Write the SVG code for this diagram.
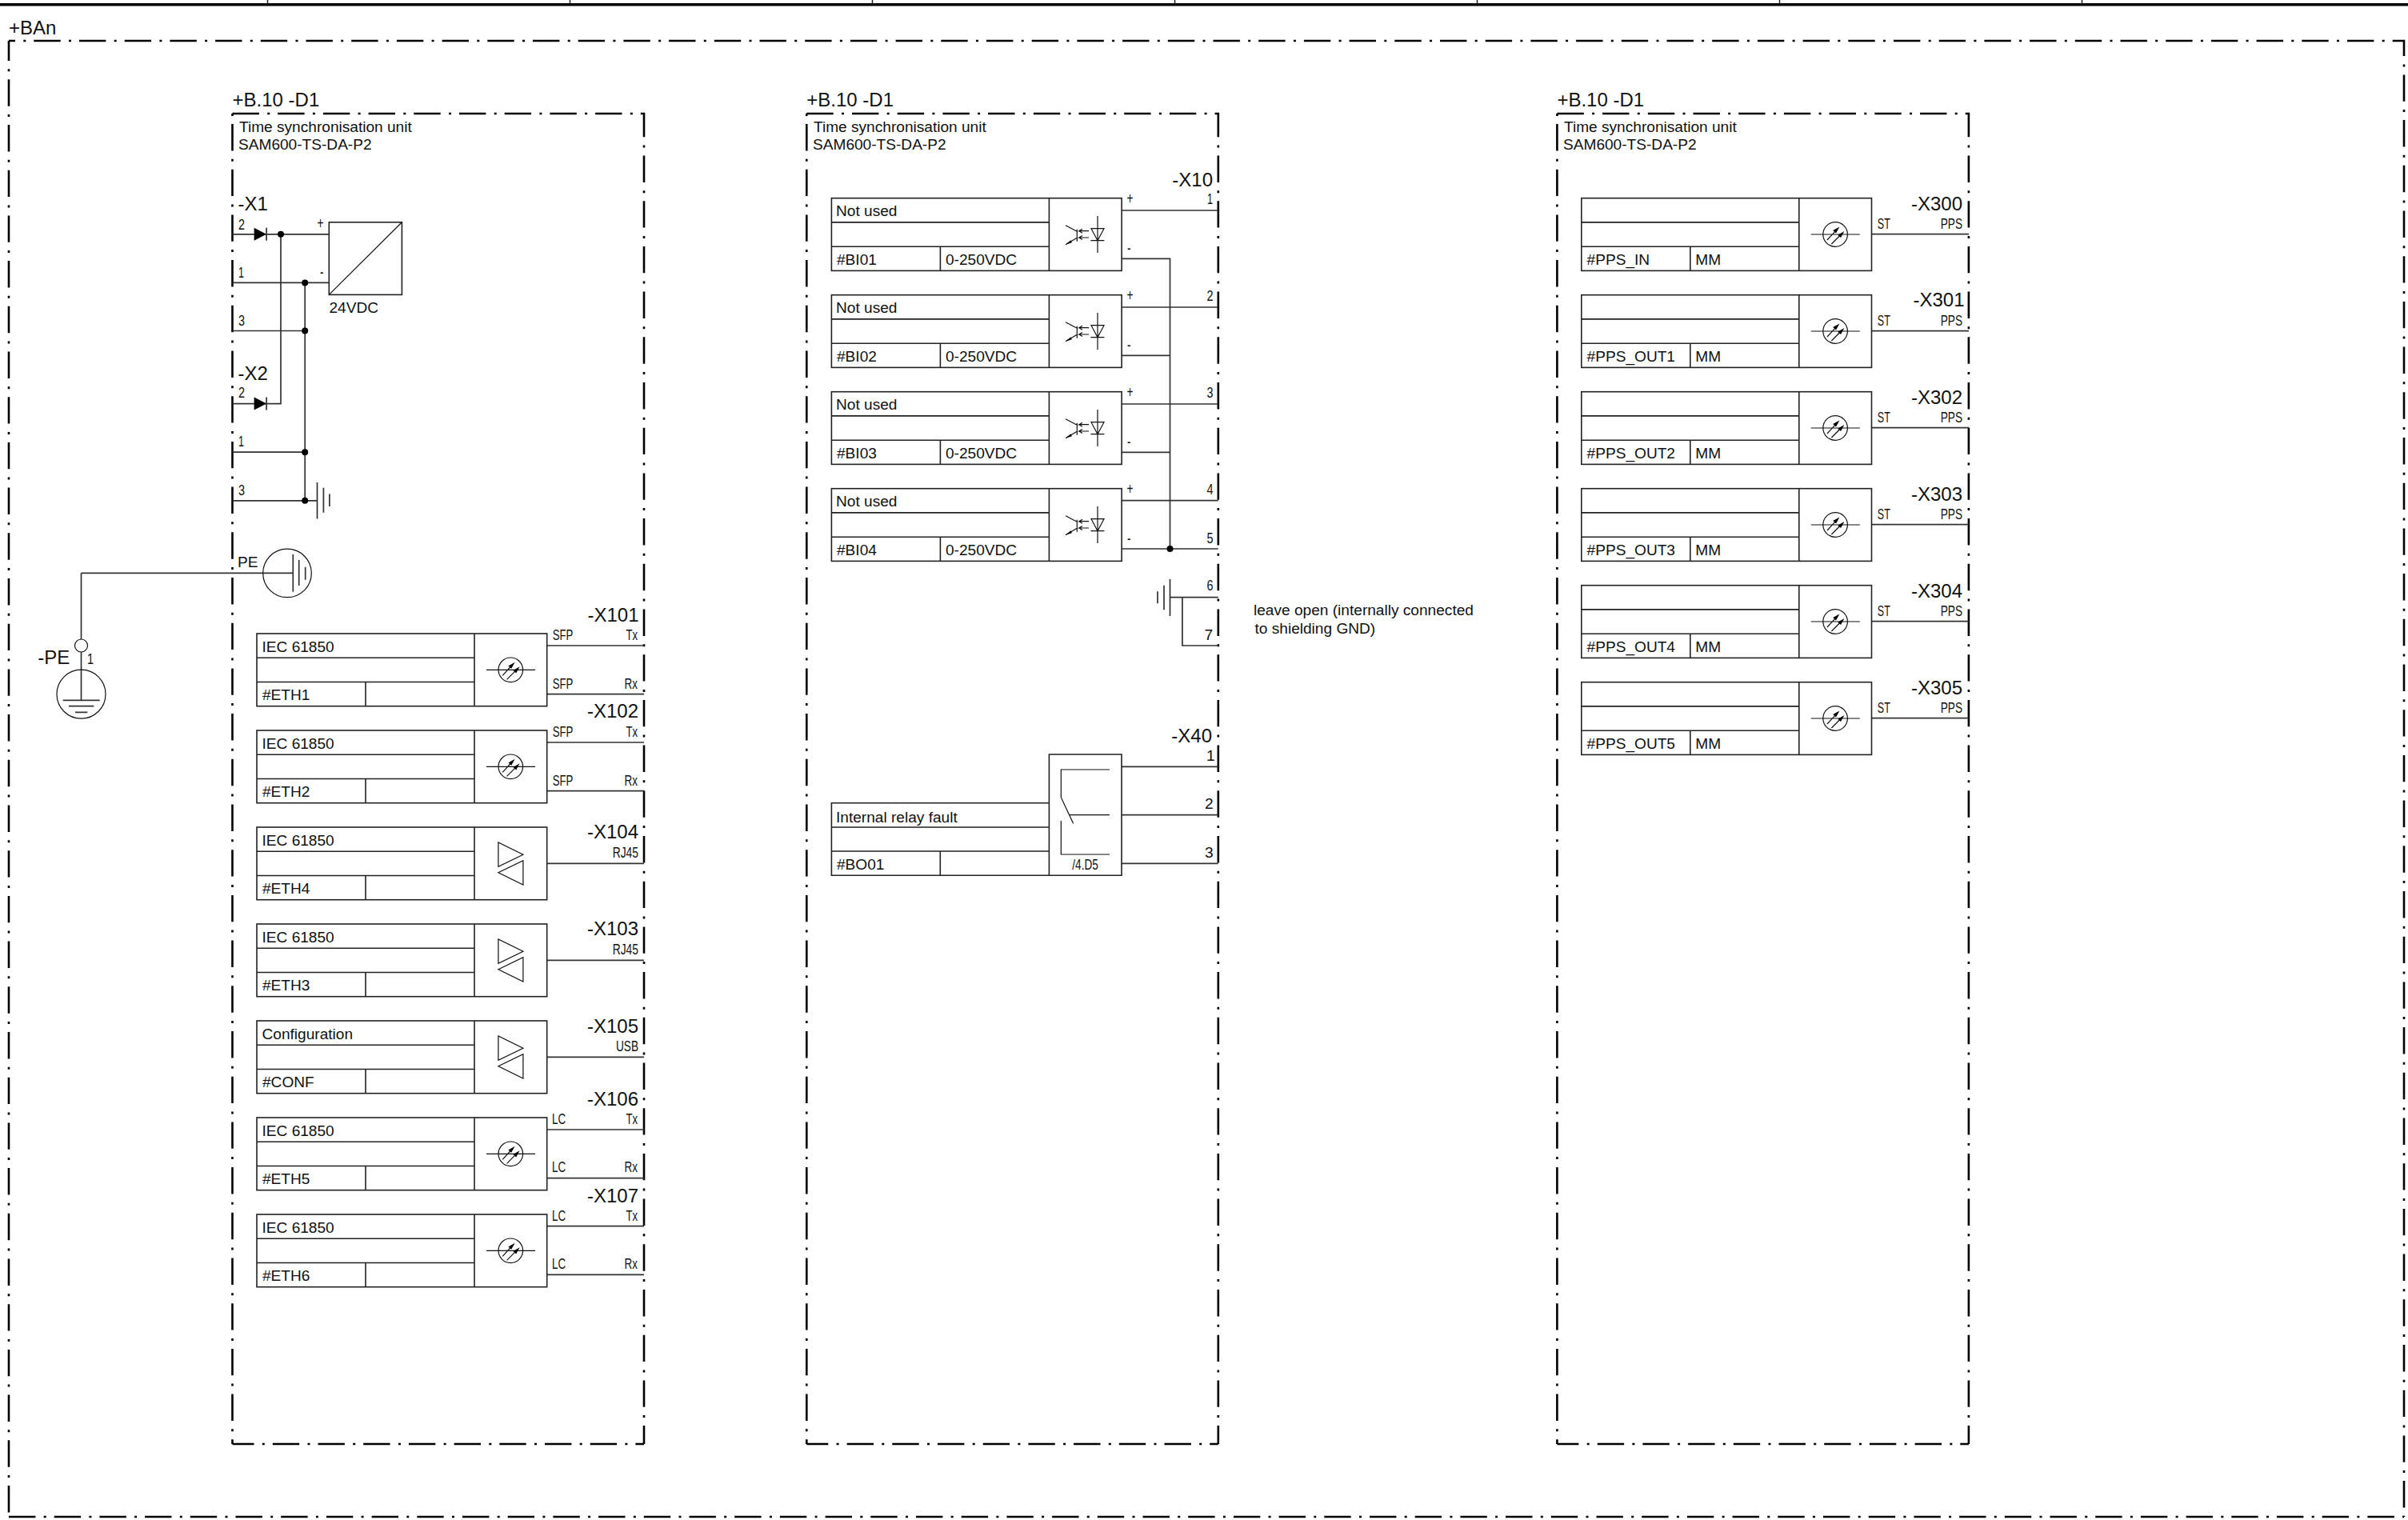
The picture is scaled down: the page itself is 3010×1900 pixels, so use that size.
<svg xmlns="http://www.w3.org/2000/svg" width="3010" height="1900" viewBox="0 0 3010 1900">
<style>
text{font-family:"Liberation Sans",Arial,sans-serif;fill:#111;stroke:none}
.t{font-size:19.1px}
.h{font-size:24px}
.s{font-size:18.5px}
.p{font-size:20px}
.d{fill:none;stroke:#000;stroke-width:2.6;stroke-dasharray:33.4 10.3 3 10}
.l{fill:none;stroke:#222;stroke-width:1.6}
.w{fill:none;stroke:#333;stroke-width:1.7}
.f{fill:#000;stroke:none}
.i{fill:none;stroke:#111;stroke-width:1.2}
</style>
<defs>
<g id="tbl" class="l"><rect x="0" y="0" width="362.7" height="90.7"/><path d="M0 30.2H272M0 60.5H272M136 60.5V90.7M272 0V90.7"/></g>
<g id="fibre"><circle class="i" cx="317.3" cy="45.3" r="15.3"/><path class="i" d="M286.9 45.3H348M307.2 52.3L319 39.5M312.6 57.3L325 44.8"/><polygon class="f" points="322.6,35.7 318.2,43.8 314.4,40.4"/><polygon class="f" points="328.6,41.3 324.2,49.4 320.4,46"/></g>
<g id="eth"><path class="i" d="M301.9 19V49.3L332.9 34.3ZM332.9 41.7V72L301.9 56.7Z"/></g>
<g id="opto"><path class="i" d="M332.6 22.3V68.3M324.6 38H340.6L332.6 53ZM324 53H341M306.9 39V54M292.6 34L306.9 41.6M292.6 58L306.9 49.6M321.7 41H309.5l4 -2.5M309.5 41l4 2.5M321.7 49.3H309.5l4 -2.5M309.5 49.3l4 2.5"/><polygon class="f" points="292.6,58 299,52.5 300.5,55.5"/></g>
<g id="diode"><polygon class="f" points="0,-8 15.5,0 0,8"/><path class="w" d="M15.5 -8V8"/></g>
<g id="frame"><path class="d" d="M0 0H514.5V1663"/><path class="d" stroke-dashoffset="43.7" d="M0 0V1663"/><path class="d" stroke-dashoffset="6.4" d="M0 1663H514.5"/></g>
</defs>
<rect width="3010" height="1900" fill="#fff"/>
<g id="title-strip"><path d="M0 5.7H3010" stroke="#000" stroke-width="3.6" fill="none"/><path d="M334.5 0V5M712.5 0V5M1090.5 0V5M1468.5 0V5M1846.5 0V5M2224.5 0V5M2602.5 0V5" stroke="#222" stroke-width="1.5" fill="none"/></g>
<g id="outer-frame"><path class="d" stroke-dashoffset="25.4" d="M11 51H3005V1896"/><path class="d" stroke-dashoffset="8.4" d="M11 51V1896"/><path class="d" d="M11 1896H3005"/><text class="h" x="11" y="43">+BAn</text></g>

<g id="frame-1"><use href="#frame" x="290.5" y="142"/><text class="h" x="290.5" y="133">+B.10 -D1</text><text class="t" x="299" y="165">Time synchronisation unit</text><text class="t" x="298" y="187">SAM600-TS-DA-P2</text></g>
<g id="frame-2"><use href="#frame" x="1008.3" y="142"/><text class="h" x="1008.3" y="133">+B.10 -D1</text><text class="t" x="1017" y="165">Time synchronisation unit</text><text class="t" x="1016" y="187">SAM600-TS-DA-P2</text></g>
<g id="frame-3"><use href="#frame" x="1946.4" y="142"/><text class="h" x="1946.4" y="133">+B.10 -D1</text><text class="t" x="1955" y="165">Time synchronisation unit</text><text class="t" x="1954" y="187">SAM600-TS-DA-P2</text></g>

<g id="connectors">
<path class="w" d="M290.5 292.8H411.3M290.5 353.4H411.3M290.5 413.5H381.2M290.5 504.6H351V292.8M290.5 565.2H381.2M290.5 625.8H396.5M381.2 353.4V625.8"/>
<path class="w" d="M101.5 716.3H366.3M101.5 716.3V799M101.5 815V875.3"/>
<path class="w" d="M684 807H805M684 867.7H805M684 928H805M684 988.7H805M684 1079.3H805M684 1200.3H805M684 1321.3H805M684 1412H805M684 1472.7H805M684 1532.7H805M684 1593.3H805"/>
<path class="w" d="M1402 263H1522.7M1402 384H1522.7M1402 505H1522.7M1402 625.7H1522.7M1402 686H1522.7M1402 323.3H1462.5V686M1402 444.3H1462.5M1402 565.3H1462.5M1462.5 746.7H1522.7M1477.9 746.7V807H1522.7M1402 958.3H1522.7M1402 1018.7H1522.7M1402 1079.3H1522.7"/>
<path class="w" d="M2339.6 292.7H2461M2339.6 413.7H2461M2339.6 534.7H2461M2339.6 655.7H2461M2339.6 776.7H2461M2339.6 897.7H2461"/>
<g class="f"><circle cx="351" cy="292.8" r="4"/><circle cx="381.2" cy="353.4" r="4"/><circle cx="381.2" cy="413.5" r="4"/><circle cx="381.2" cy="565.2" r="4"/><circle cx="381.2" cy="625.8" r="4"/><circle cx="1462.5" cy="686" r="4"/></g>
</g>

<g id="X1"><text class="h" x="297.5" y="263">-X1</text>
<text class="s" x="298" y="287" textLength="8" lengthAdjust="spacingAndGlyphs">2</text><text class="s" x="298" y="346.6" textLength="7" lengthAdjust="spacingAndGlyphs">1</text><text class="s" x="298" y="407" textLength="8" lengthAdjust="spacingAndGlyphs">3</text><use href="#diode" x="317.6" y="292.8"/></g>
<g id="X2"><text class="h" x="297.5" y="475">-X2</text>
<text class="s" x="298" y="497.3" textLength="8" lengthAdjust="spacingAndGlyphs">2</text><text class="s" x="298" y="558.4" textLength="7" lengthAdjust="spacingAndGlyphs">1</text><text class="s" x="298" y="618.5" textLength="8" lengthAdjust="spacingAndGlyphs">3</text><use href="#diode" x="317.6" y="504.6"/></g>
<g id="converter"><rect class="l" x="411.3" y="277.8" width="91.1" height="90.6"/><path class="i" d="M411.3 368.4L502.4 277.8"/><text class="p" x="396.5" y="286" textLength="8" lengthAdjust="spacingAndGlyphs">+</text><text class="p" x="400" y="347" textLength="4.5" lengthAdjust="spacingAndGlyphs">-</text><text class="t" x="411.5" y="391">24VDC</text></g>
<g id="shield-gnd"><path class="w" d="M396.5 603V648.6M404.4 609.8V640.8M411.9 617.6V633"/></g>
<g id="PE-terminal"><text class="t" x="297" y="709">PE</text><circle class="i" cx="359" cy="716.4" r="30.3"/><path class="w" d="M366.3 693V739.7M373.7 700V732M381.7 708.7V724.7"/></g>
<g id="PE-earth"><circle class="i" cx="101.5" cy="807" r="8"/><circle class="i" cx="101.5" cy="867.7" r="30.5"/><path class="w" d="M78.7 875.3H124.7M86 882.7H117.3M94 890.3H109.3"/><text class="h" x="47.3" y="830">-PE</text><text class="s" x="109" y="830" textLength="8" lengthAdjust="spacingAndGlyphs">1</text></g>

<g id="ETH1"><use href="#tbl" x="321" y="792"/><use href="#fibre" x="321" y="792"/><text class="t" x="327.5" y="815">IEC 61850</text><text class="t" x="328" y="875">#ETH1</text><text class="h" x="798.5" y="776.7" text-anchor="end">-X101</text><text class="s" x="690.7" y="800" textLength="25.7" lengthAdjust="spacingAndGlyphs">SFP</text><text class="s" x="782.4" y="800" textLength="14.6" lengthAdjust="spacingAndGlyphs">Tx</text><text class="s" x="690.7" y="860.5" textLength="25.7" lengthAdjust="spacingAndGlyphs">SFP</text><text class="s" x="780.6" y="860.5" textLength="16.4" lengthAdjust="spacingAndGlyphs">Rx</text></g>
<g id="ETH2"><use href="#tbl" x="321" y="913"/><use href="#fibre" x="321" y="913"/><text class="t" x="327.5" y="936">IEC 61850</text><text class="t" x="328" y="996">#ETH2</text><text class="h" x="798" y="897.3" text-anchor="end">-X102</text><text class="s" x="690.7" y="921" textLength="25.7" lengthAdjust="spacingAndGlyphs">SFP</text><text class="s" x="782.4" y="921" textLength="14.6" lengthAdjust="spacingAndGlyphs">Tx</text><text class="s" x="690.7" y="981.5" textLength="25.7" lengthAdjust="spacingAndGlyphs">SFP</text><text class="s" x="780.6" y="981.5" textLength="16.4" lengthAdjust="spacingAndGlyphs">Rx</text></g>
<g id="ETH4"><use href="#tbl" x="321" y="1034"/><use href="#eth" x="321" y="1034"/><text class="t" x="327.5" y="1057">IEC 61850</text><text class="t" x="328" y="1117">#ETH4</text><text class="h" x="798" y="1048.3" text-anchor="end">-X104</text><text class="s" x="765.7" y="1071.7" textLength="32.3" lengthAdjust="spacingAndGlyphs">RJ45</text></g>
<g id="ETH3"><use href="#tbl" x="321" y="1155"/><use href="#eth" x="321" y="1155"/><text class="t" x="327.5" y="1178">IEC 61850</text><text class="t" x="328" y="1238">#ETH3</text><text class="h" x="798" y="1169.3" text-anchor="end">-X103</text><text class="s" x="765.7" y="1192.7" textLength="32.3" lengthAdjust="spacingAndGlyphs">RJ45</text></g>
<g id="CONF"><use href="#tbl" x="321" y="1276"/><use href="#eth" x="321" y="1276"/><text class="t" x="327.5" y="1299">Configuration</text><text class="t" x="328" y="1359">#CONF</text><text class="h" x="798" y="1290.7" text-anchor="end">-X105</text><text class="s" x="770" y="1314" textLength="28" lengthAdjust="spacingAndGlyphs">USB</text></g>
<g id="ETH5"><use href="#tbl" x="321" y="1397"/><use href="#fibre" x="321" y="1397"/><text class="t" x="327.5" y="1420">IEC 61850</text><text class="t" x="328" y="1480">#ETH5</text><text class="h" x="798" y="1381.7" text-anchor="end">-X106</text><text class="s" x="690" y="1405" textLength="17" lengthAdjust="spacingAndGlyphs">LC</text><text class="s" x="782.4" y="1405" textLength="14.6" lengthAdjust="spacingAndGlyphs">Tx</text><text class="s" x="690" y="1465" textLength="17" lengthAdjust="spacingAndGlyphs">LC</text><text class="s" x="780.6" y="1465" textLength="16.4" lengthAdjust="spacingAndGlyphs">Rx</text></g>
<g id="ETH6"><use href="#tbl" x="321" y="1518"/><use href="#fibre" x="321" y="1518"/><text class="t" x="327.5" y="1541">IEC 61850</text><text class="t" x="328" y="1601">#ETH6</text><text class="h" x="798" y="1502.7" text-anchor="end">-X107</text><text class="s" x="690" y="1526" textLength="17" lengthAdjust="spacingAndGlyphs">LC</text><text class="s" x="782.4" y="1526" textLength="14.6" lengthAdjust="spacingAndGlyphs">Tx</text><text class="s" x="690" y="1586" textLength="17" lengthAdjust="spacingAndGlyphs">LC</text><text class="s" x="780.6" y="1586" textLength="16.4" lengthAdjust="spacingAndGlyphs">Rx</text></g>

<g id="X10"><text class="h" x="1516" y="232.7" text-anchor="end">-X10</text>
<text class="s" x="1509" y="255" textLength="7" lengthAdjust="spacingAndGlyphs">1</text><text class="s" x="1508.6" y="376" textLength="8" lengthAdjust="spacingAndGlyphs">2</text><text class="s" x="1508.6" y="497" textLength="8" lengthAdjust="spacingAndGlyphs">3</text><text class="s" x="1508.6" y="617.7" textLength="8" lengthAdjust="spacingAndGlyphs">4</text><text class="s" x="1508.6" y="679" textLength="8" lengthAdjust="spacingAndGlyphs">5</text><text class="s" x="1508.6" y="738" textLength="8" lengthAdjust="spacingAndGlyphs">6</text><text class="t" x="1505.5" y="800">7</text></g>
<g id="BI01"><use href="#tbl" x="1039.4" y="247.7"/><use href="#opto" x="1039.4" y="247.7"/><text class="t" x="1045" y="270">Not used</text><text class="t" x="1046" y="331">#BI01</text><text class="t" x="1182" y="331">0-250VDC</text><text class="p" x="1408.5" y="255" textLength="8" lengthAdjust="spacingAndGlyphs">+</text><text class="p" x="1409" y="317" textLength="4.5" lengthAdjust="spacingAndGlyphs">-</text></g>
<g id="BI02"><use href="#tbl" x="1039.4" y="368.7"/><use href="#opto" x="1039.4" y="368.7"/><text class="t" x="1045" y="391">Not used</text><text class="t" x="1046" y="452">#BI02</text><text class="t" x="1182" y="452">0-250VDC</text><text class="p" x="1408.5" y="376" textLength="8" lengthAdjust="spacingAndGlyphs">+</text><text class="p" x="1409" y="438" textLength="4.5" lengthAdjust="spacingAndGlyphs">-</text></g>
<g id="BI03"><use href="#tbl" x="1039.4" y="489.7"/><use href="#opto" x="1039.4" y="489.7"/><text class="t" x="1045" y="512">Not used</text><text class="t" x="1046" y="573">#BI03</text><text class="t" x="1182" y="573">0-250VDC</text><text class="p" x="1408.5" y="497" textLength="8" lengthAdjust="spacingAndGlyphs">+</text><text class="p" x="1409" y="559" textLength="4.5" lengthAdjust="spacingAndGlyphs">-</text></g>
<g id="BI04"><use href="#tbl" x="1039.4" y="610.7"/><use href="#opto" x="1039.4" y="610.7"/><text class="t" x="1045" y="633">Not used</text><text class="t" x="1046" y="694">#BI04</text><text class="t" x="1182" y="694">0-250VDC</text><text class="p" x="1408.5" y="618" textLength="8" lengthAdjust="spacingAndGlyphs">+</text><text class="p" x="1409" y="680" textLength="4.5" lengthAdjust="spacingAndGlyphs">-</text></g>
<g id="shield-x10"><path class="w" d="M1462.5 724V770M1455 731.7V762.3M1447 739.3V754.3"/><text class="t" x="1567" y="769.3">leave open (internally connected</text><text class="t" x="1568.5" y="791.7">to shielding GND)</text></g>

<g id="BO01"><path class="l" d="M1311.4 1003.7H1039.4V1094.3H1402V943H1311.4V1094.3M1039.4 1034H1311.4M1039.4 1064H1311.4M1175.3 1064V1094.3"/><path class="i" d="M1387 962H1326.3V996.7L1341.6 1029.3M1337.4 1018.7H1387M1326.3 1026V1068H1387"/><text class="t" x="1045" y="1028">Internal relay fault</text><text class="t" x="1046" y="1087">#BO01</text><text class="s" x="1340.3" y="1086.7" textLength="32.5" lengthAdjust="spacingAndGlyphs">/4.D5</text><text class="h" x="1515" y="927.7" text-anchor="end">-X40</text><text class="t" x="1508" y="950.7">1</text><text class="t" x="1506" y="1011">2</text><text class="t" x="1506" y="1071.7">3</text></g>

<g id="PPS-IN"><use href="#tbl" x="1976.8" y="247.7"/><use href="#fibre" x="1976.8" y="247.7"/><text class="t" x="1983.6" y="331">#PPS_IN</text><text class="t" x="2119.3" y="331">MM</text><text class="h" x="2453" y="262.7" text-anchor="end">-X300</text><text class="s" x="2346.8" y="286" textLength="16" lengthAdjust="spacingAndGlyphs">ST</text><text class="s" x="2425.7" y="286" textLength="27.3" lengthAdjust="spacingAndGlyphs">PPS</text></g>
<g id="PPS-OUT1"><use href="#tbl" x="1976.8" y="368.7"/><use href="#fibre" x="1976.8" y="368.7"/><text class="t" x="1983.6" y="452">#PPS_OUT1</text><text class="t" x="2119.3" y="452">MM</text><text class="h" x="2455.5" y="383.3" text-anchor="end">-X301</text><text class="s" x="2346.8" y="407" textLength="16" lengthAdjust="spacingAndGlyphs">ST</text><text class="s" x="2425.7" y="407" textLength="27.3" lengthAdjust="spacingAndGlyphs">PPS</text></g>
<g id="PPS-OUT2"><use href="#tbl" x="1976.8" y="489.7"/><use href="#fibre" x="1976.8" y="489.7"/><text class="t" x="1983.6" y="573">#PPS_OUT2</text><text class="t" x="2119.3" y="573">MM</text><text class="h" x="2453" y="504.7" text-anchor="end">-X302</text><text class="s" x="2346.8" y="528" textLength="16" lengthAdjust="spacingAndGlyphs">ST</text><text class="s" x="2425.7" y="528" textLength="27.3" lengthAdjust="spacingAndGlyphs">PPS</text></g>
<g id="PPS-OUT3"><use href="#tbl" x="1976.8" y="610.7"/><use href="#fibre" x="1976.8" y="610.7"/><text class="t" x="1983.6" y="694">#PPS_OUT3</text><text class="t" x="2119.3" y="694">MM</text><text class="h" x="2453" y="625.7" text-anchor="end">-X303</text><text class="s" x="2346.8" y="649" textLength="16" lengthAdjust="spacingAndGlyphs">ST</text><text class="s" x="2425.7" y="649" textLength="27.3" lengthAdjust="spacingAndGlyphs">PPS</text></g>
<g id="PPS-OUT4"><use href="#tbl" x="1976.8" y="731.7"/><use href="#fibre" x="1976.8" y="731.7"/><text class="t" x="1983.6" y="815">#PPS_OUT4</text><text class="t" x="2119.3" y="815">MM</text><text class="h" x="2453" y="746.7" text-anchor="end">-X304</text><text class="s" x="2346.8" y="770" textLength="16" lengthAdjust="spacingAndGlyphs">ST</text><text class="s" x="2425.7" y="770" textLength="27.3" lengthAdjust="spacingAndGlyphs">PPS</text></g>
<g id="PPS-OUT5"><use href="#tbl" x="1976.8" y="852.7"/><use href="#fibre" x="1976.8" y="852.7"/><text class="t" x="1983.6" y="936">#PPS_OUT5</text><text class="t" x="2119.3" y="936">MM</text><text class="h" x="2453" y="867.7" text-anchor="end">-X305</text><text class="s" x="2346.8" y="891" textLength="16" lengthAdjust="spacingAndGlyphs">ST</text><text class="s" x="2425.7" y="891" textLength="27.3" lengthAdjust="spacingAndGlyphs">PPS</text></g>
</svg>
